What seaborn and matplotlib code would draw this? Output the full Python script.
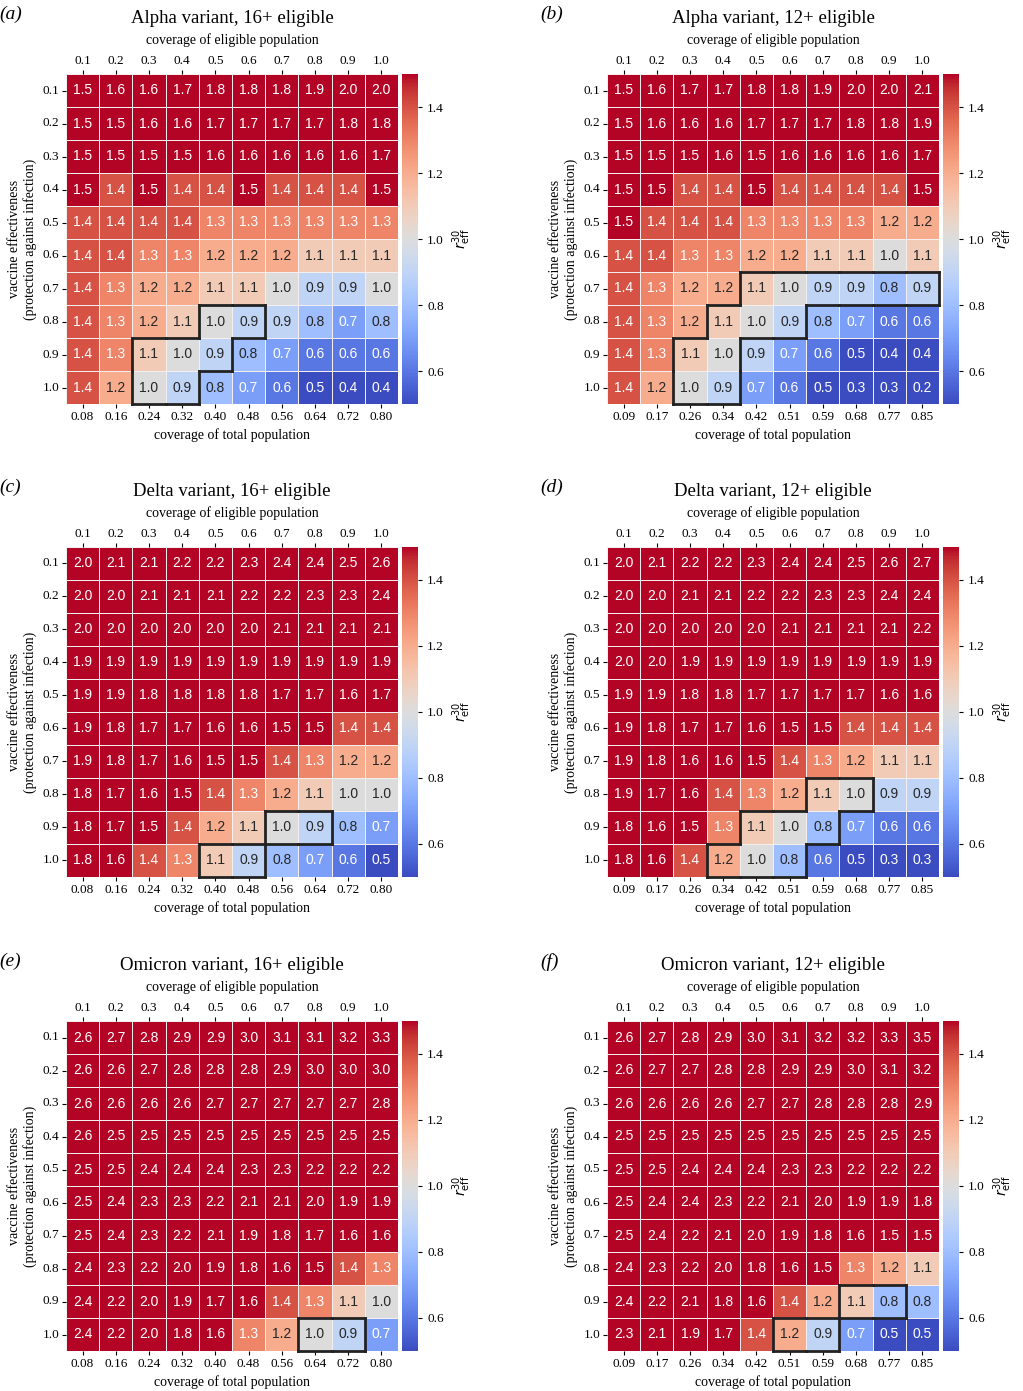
import numpy as np
import pandas as pd
import matplotlib
matplotlib.use("Agg")
import matplotlib.pyplot as plt
import seaborn as sns

ve = [0.1, 0.2, 0.3, 0.4, 0.5, 0.6, 0.7, 0.8, 0.9, 1.0]
cov_elig = ["0.1", "0.2", "0.3", "0.4", "0.5", "0.6", "0.7", "0.8", "0.9", "1.0"]
cov_total_16 = ["0.08", "0.16", "0.24", "0.32", "0.40", "0.48", "0.56", "0.64", "0.72", "0.80"]
cov_total_12 = ["0.09", "0.17", "0.26", "0.34", "0.42", "0.51", "0.59", "0.68", "0.77", "0.85"]

alpha16 = [
    [1.5, 1.6, 1.6, 1.7, 1.8, 1.8, 1.8, 1.9, 2.0, 2.0],
    [1.5, 1.5, 1.6, 1.6, 1.7, 1.7, 1.7, 1.7, 1.8, 1.8],
    [1.5, 1.5, 1.5, 1.5, 1.6, 1.6, 1.6, 1.6, 1.6, 1.7],
    [1.5, 1.4, 1.5, 1.4, 1.4, 1.5, 1.4, 1.4, 1.4, 1.5],
    [1.4, 1.4, 1.4, 1.4, 1.3, 1.3, 1.3, 1.3, 1.3, 1.3],
    [1.4, 1.4, 1.3, 1.3, 1.2, 1.2, 1.2, 1.1, 1.1, 1.1],
    [1.4, 1.3, 1.2, 1.2, 1.1, 1.1, 1.0, 0.9, 0.9, 1.0],
    [1.4, 1.3, 1.2, 1.1, 1.0, 0.9, 0.9, 0.8, 0.7, 0.8],
    [1.4, 1.3, 1.1, 1.0, 0.9, 0.8, 0.7, 0.6, 0.6, 0.6],
    [1.4, 1.2, 1.0, 0.9, 0.8, 0.7, 0.6, 0.5, 0.4, 0.4],
]
alpha12 = [
    [1.5, 1.6, 1.7, 1.7, 1.8, 1.8, 1.9, 2.0, 2.0, 2.1],
    [1.5, 1.6, 1.6, 1.6, 1.7, 1.7, 1.7, 1.8, 1.8, 1.9],
    [1.5, 1.5, 1.5, 1.6, 1.5, 1.6, 1.6, 1.6, 1.6, 1.7],
    [1.5, 1.5, 1.4, 1.4, 1.5, 1.4, 1.4, 1.4, 1.4, 1.5],
    [1.5, 1.4, 1.4, 1.4, 1.3, 1.3, 1.3, 1.3, 1.2, 1.2],
    [1.4, 1.4, 1.3, 1.3, 1.2, 1.2, 1.1, 1.1, 1.0, 1.1],
    [1.4, 1.3, 1.2, 1.2, 1.1, 1.0, 0.9, 0.9, 0.8, 0.9],
    [1.4, 1.3, 1.2, 1.1, 1.0, 0.9, 0.8, 0.7, 0.6, 0.6],
    [1.4, 1.3, 1.1, 1.0, 0.9, 0.7, 0.6, 0.5, 0.4, 0.4],
    [1.4, 1.2, 1.0, 0.9, 0.7, 0.6, 0.5, 0.3, 0.3, 0.2],
]
delta16 = [
    [2.0, 2.1, 2.1, 2.2, 2.2, 2.3, 2.4, 2.4, 2.5, 2.6],
    [2.0, 2.0, 2.1, 2.1, 2.1, 2.2, 2.2, 2.3, 2.3, 2.4],
    [2.0, 2.0, 2.0, 2.0, 2.0, 2.0, 2.1, 2.1, 2.1, 2.1],
    [1.9, 1.9, 1.9, 1.9, 1.9, 1.9, 1.9, 1.9, 1.9, 1.9],
    [1.9, 1.9, 1.8, 1.8, 1.8, 1.8, 1.7, 1.7, 1.6, 1.7],
    [1.9, 1.8, 1.7, 1.7, 1.6, 1.6, 1.5, 1.5, 1.4, 1.4],
    [1.9, 1.8, 1.7, 1.6, 1.5, 1.5, 1.4, 1.3, 1.2, 1.2],
    [1.8, 1.7, 1.6, 1.5, 1.4, 1.3, 1.2, 1.1, 1.0, 1.0],
    [1.8, 1.7, 1.5, 1.4, 1.2, 1.1, 1.0, 0.9, 0.8, 0.7],
    [1.8, 1.6, 1.4, 1.3, 1.1, 0.9, 0.8, 0.7, 0.6, 0.5],
]
delta12 = [
    [2.0, 2.1, 2.2, 2.2, 2.3, 2.4, 2.4, 2.5, 2.6, 2.7],
    [2.0, 2.0, 2.1, 2.1, 2.2, 2.2, 2.3, 2.3, 2.4, 2.4],
    [2.0, 2.0, 2.0, 2.0, 2.0, 2.1, 2.1, 2.1, 2.1, 2.2],
    [2.0, 2.0, 1.9, 1.9, 1.9, 1.9, 1.9, 1.9, 1.9, 1.9],
    [1.9, 1.9, 1.8, 1.8, 1.7, 1.7, 1.7, 1.7, 1.6, 1.6],
    [1.9, 1.8, 1.7, 1.7, 1.6, 1.5, 1.5, 1.4, 1.4, 1.4],
    [1.9, 1.8, 1.6, 1.6, 1.5, 1.4, 1.3, 1.2, 1.1, 1.1],
    [1.9, 1.7, 1.6, 1.4, 1.3, 1.2, 1.1, 1.0, 0.9, 0.9],
    [1.8, 1.6, 1.5, 1.3, 1.1, 1.0, 0.8, 0.7, 0.6, 0.6],
    [1.8, 1.6, 1.4, 1.2, 1.0, 0.8, 0.6, 0.5, 0.3, 0.3],
]
omicron16 = [
    [2.6, 2.7, 2.8, 2.9, 2.9, 3.0, 3.1, 3.1, 3.2, 3.3],
    [2.6, 2.6, 2.7, 2.8, 2.8, 2.8, 2.9, 3.0, 3.0, 3.0],
    [2.6, 2.6, 2.6, 2.6, 2.7, 2.7, 2.7, 2.7, 2.7, 2.8],
    [2.6, 2.5, 2.5, 2.5, 2.5, 2.5, 2.5, 2.5, 2.5, 2.5],
    [2.5, 2.5, 2.4, 2.4, 2.4, 2.3, 2.3, 2.2, 2.2, 2.2],
    [2.5, 2.4, 2.3, 2.3, 2.2, 2.1, 2.1, 2.0, 1.9, 1.9],
    [2.5, 2.4, 2.3, 2.2, 2.1, 1.9, 1.8, 1.7, 1.6, 1.6],
    [2.4, 2.3, 2.2, 2.0, 1.9, 1.8, 1.6, 1.5, 1.4, 1.3],
    [2.4, 2.2, 2.0, 1.9, 1.7, 1.6, 1.4, 1.3, 1.1, 1.0],
    [2.4, 2.2, 2.0, 1.8, 1.6, 1.3, 1.2, 1.0, 0.9, 0.7],
]
omicron12 = [
    [2.6, 2.7, 2.8, 2.9, 3.0, 3.1, 3.2, 3.2, 3.3, 3.5],
    [2.6, 2.7, 2.7, 2.8, 2.8, 2.9, 2.9, 3.0, 3.1, 3.2],
    [2.6, 2.6, 2.6, 2.6, 2.7, 2.7, 2.8, 2.8, 2.8, 2.9],
    [2.5, 2.5, 2.5, 2.5, 2.5, 2.5, 2.5, 2.5, 2.5, 2.5],
    [2.5, 2.5, 2.4, 2.4, 2.4, 2.3, 2.3, 2.2, 2.2, 2.2],
    [2.5, 2.4, 2.4, 2.3, 2.2, 2.1, 2.0, 1.9, 1.9, 1.8],
    [2.5, 2.4, 2.2, 2.1, 2.0, 1.9, 1.8, 1.6, 1.5, 1.5],
    [2.4, 2.3, 2.2, 2.0, 1.8, 1.6, 1.5, 1.3, 1.2, 1.1],
    [2.4, 2.2, 2.1, 1.8, 1.6, 1.4, 1.2, 1.1, 0.8, 0.8],
    [2.3, 2.1, 1.9, 1.7, 1.4, 1.2, 0.9, 0.7, 0.5, 0.5],
]

# highlighted cells: (row index, col index)
hl_a = [(7, 4), (7, 5), (8, 2), (8, 3), (8, 4), (9, 2), (9, 3)]
hl_b = [(6, c) for c in range(4, 10)] + [(7, 3), (7, 4), (7, 5), (8, 2), (8, 3), (9, 2), (9, 3)]
hl_c = [(8, 6), (8, 7), (9, 4), (9, 5)]
hl_d = [(7, 6), (7, 7), (8, 4), (8, 5), (8, 6), (9, 3), (9, 4), (9, 5)]
hl_e = [(9, 7), (9, 8)]
hl_f = [(8, 7), (8, 8), (9, 5), (9, 6)]

panels = [
    ("(a)", "Alpha variant, 16+ eligible", alpha16, cov_total_16, hl_a),
    ("(b)", "Alpha variant, 12+ eligible", alpha12, cov_total_12, hl_b),
    ("(c)", "Delta variant, 16+ eligible", delta16, cov_total_16, hl_c),
    ("(d)", "Delta variant, 12+ eligible", delta12, cov_total_12, hl_d),
    ("(e)", "Omicron variant, 16+ eligible", omicron16, cov_total_16, hl_e),
    ("(f)", "Omicron variant, 12+ eligible", omicron12, cov_total_12, hl_f),
]

serif = ["Liberation Serif", "DejaVu Serif"]
fig = plt.figure(figsize=(10.23, 13.91), dpi=100)

lefts = [66, 607]
tops = [74, 547, 1021]
W, H = 1023, 1391
cw, ch = 332, 330

for i, (letter, title, data, tot, hl) in enumerate(panels):
    r, c = divmod(i, 2)
    x0 = lefts[c]
    y0 = tops[r]
    ax = fig.add_axes([x0 / W, 1 - (y0 + ch) / H, cw / W, ch / H])
    cax = fig.add_axes([(x0 + cw + 4) / W, 1 - (y0 + ch) / H, 16 / W, ch / H])
    df = pd.DataFrame(data, index=ve, columns=cov_elig)
    sns.heatmap(df, ax=ax, cbar_ax=cax, cmap="coolwarm", vmin=0.5, vmax=1.5, center=1.0,
                annot=True, fmt=".1f", annot_kws={"fontsize": 10, "family": "Liberation Sans"},
                linewidths=0.6, linecolor="#f4eeee")
    ax.set_xticklabels(tot, rotation=0, family=serif, fontsize=9.5)
    ax.set_yticklabels([f"{v:.1f}" for v in ve], rotation=0, family=serif, fontsize=9.5)
    ax.set_xlabel("coverage of total population", family=serif, fontsize=10)
    ax.set_ylabel("vaccine effectiveness\n(protection against infection)", family=serif, fontsize=10)
    top = ax.twiny()
    top.set_xlim(ax.get_xlim())
    top.set_xticks(np.arange(10) + 0.5)
    top.set_xticklabels(cov_elig, family=serif, fontsize=9.5)
    top.set_xlabel("coverage of eligible population", family=serif, fontsize=10, labelpad=8)
    for s in top.spines.values():
        s.set_visible(False)
    top.tick_params(length=3, pad=2)
    ax.tick_params(length=3, pad=2)
    ax.set_title(title, family=serif, fontsize=13.5, pad=37)
    ax.text(-0.2, 1.18, letter, transform=ax.transAxes, family=serif, style="italic",
            fontsize=14, ha="left", va="center")
    # outline highlighted region
    s = set(hl)
    for (rr, cc) in hl:
        for dr, dc, seg in [(-1, 0, ((cc, rr), (cc + 1, rr))), (1, 0, ((cc, rr + 1), (cc + 1, rr + 1))),
                            (0, -1, ((cc, rr), (cc, rr + 1))), (0, 1, ((cc + 1, rr), (cc + 1, rr + 1)))]:
            if (rr + dr, cc + dc) not in s:
                ax.plot([seg[0][0], seg[1][0]], [seg[0][1], seg[1][1]], color="#222222", lw=2,
                        solid_capstyle="projecting", clip_on=False)
    cax.set_yticks([0.6, 0.8, 1.0, 1.2, 1.4])
    cax.set_yticklabels(["0.6", "0.8", "1.0", "1.2", "1.4"], family=serif, fontsize=9.5)
    cax.tick_params(length=3)
    cax.set_ylabel(r"$r_{\rm eff}^{30}$", rotation=90, fontsize=10)
    cax.yaxis.set_label_coords(3.0, 0.5)

fig.savefig("out.png", dpi=100)
